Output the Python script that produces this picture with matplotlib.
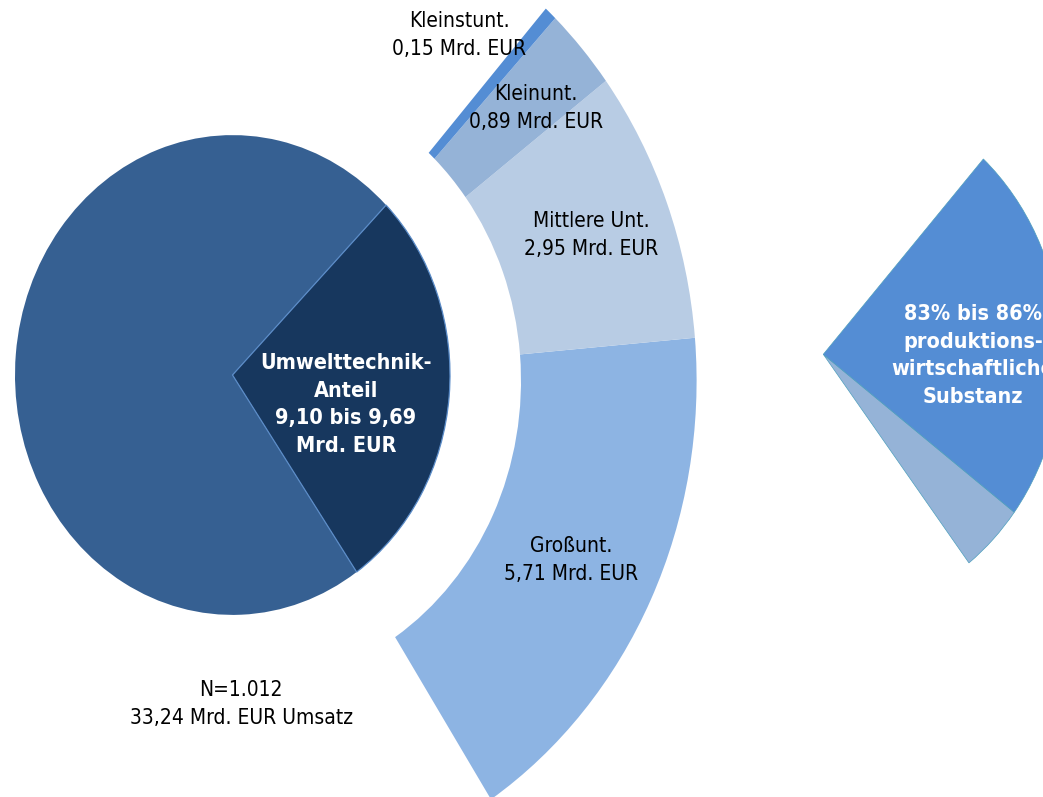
import matplotlib
matplotlib.use("Agg")
import matplotlib.pyplot as plt
from matplotlib.patches import Wedge

# ---------------- data ----------------
total_umsatz = 33.24                      # Mrd. EUR Umsatz
n_firms = "1.012"
umwelt_range = ("9,10", "9,69")           # Mrd. EUR Umwelttechnik-Anteil
umwelt_share_drawn = 9.26

groessen_labels = ["Großunt.", "Mittlere Unt.", "Kleinunt.", "Kleinstunt."]
groessen_values = [5.71, 2.95, 0.89, 0.15]  # Mrd. EUR
groessen_text = ["5,71", "2,95", "0,89", "0,15"]

substanz_share = [15.5, 84.5]             # rest, produktionswirtschaftliche Substanz (%)
substanz_text = "83% bis 86%\nproduktions-\nwirtschaftliche\nSubstanz"

# ---------------- layout ----------------
W, H = 1043, 797
YS = 1.103          # vertical stretch of the original picture


def P(px, py):
    """pixel position of the reference -> data coordinates"""
    return (px, (H - py) / YS)


fig = plt.figure(figsize=(W / 100, H / 100), dpi=100)
ax = fig.add_axes([0, 0, 1, 1])
ax.set_xlim(0, W)
ax.set_ylim(0, H / YS)
ax.axis("off")

deg_per = 360.0 / total_umsatz

# main pie
c_pie, r_pie = P(232.5, 375), 217.5
a0 = -55.2
a1 = a0 + umwelt_share_drawn * deg_per
ax.add_patch(Wedge(c_pie, r_pie, a1, a0 + 360, fc="#366092", ec="none"))
ax.add_patch(Wedge(c_pie, r_pie, a0, a1, fc="#17375E", ec="#5B8CC8", lw=0.9))

# ring (company size breakdown)
c_ring, r_out, ring_w = P(243.6, 380.8), 453.0, 175.6
ring_colors = ["#8DB4E3", "#B8CCE4", "#95B3D7", "#548DD4"]
start = -56.9
for v, col in zip(groessen_values, ring_colors):
    end = start + v * deg_per
    ax.add_patch(Wedge(c_ring, r_out, start, end, width=ring_w, fc=col, ec="none"))
    start = end

# right pie (produktionswirtschaftliche Substanz)
c_sub, r_sub = P(823.3, 354.3), 238.7
span = umwelt_share_drawn * deg_per
sub_colors = ["#95B3D7", "#548DD4"]
start = -52.4
for v, col in zip(substanz_share, sub_colors):
    end = start + v / sum(substanz_share) * span
    ax.add_patch(Wedge(c_sub, r_sub, start, end, fc=col, ec="#4F9FBD", lw=0.5))
    start = end

# ---------------- texts ----------------
reg = dict(family="DejaVu Sans", stretch="condensed", fontsize=15, color="black",
           ha="center", va="center", linespacing=1.48)
bold = dict(family="DejaVu Sans", stretch="condensed", fontsize=15.5, color="white",
            fontweight="bold", ha="center", va="center", linespacing=1.46)

label_pos = [(571.5, 560), (591, 235), (536, 108), (459.5, 35)]
for lab, txt, pos in zip(groessen_labels, groessen_text, label_pos):
    ax.text(*P(*pos), f"{lab}\n{txt} Mrd. EUR", **reg)

ax.text(*P(241, 704), f"N={n_firms}\n{str(total_umsatz).replace('.', ',')} Mrd. EUR Umsatz", **reg)
ax.text(*P(346, 404.5), f"Umwelttechnik-\nAnteil\n{umwelt_range[0]} bis {umwelt_range[1]}\nMrd. EUR", **bold)
ax.text(*P(973, 355.5), substanz_text, **bold)

fig.savefig("out.png", dpi=100)
